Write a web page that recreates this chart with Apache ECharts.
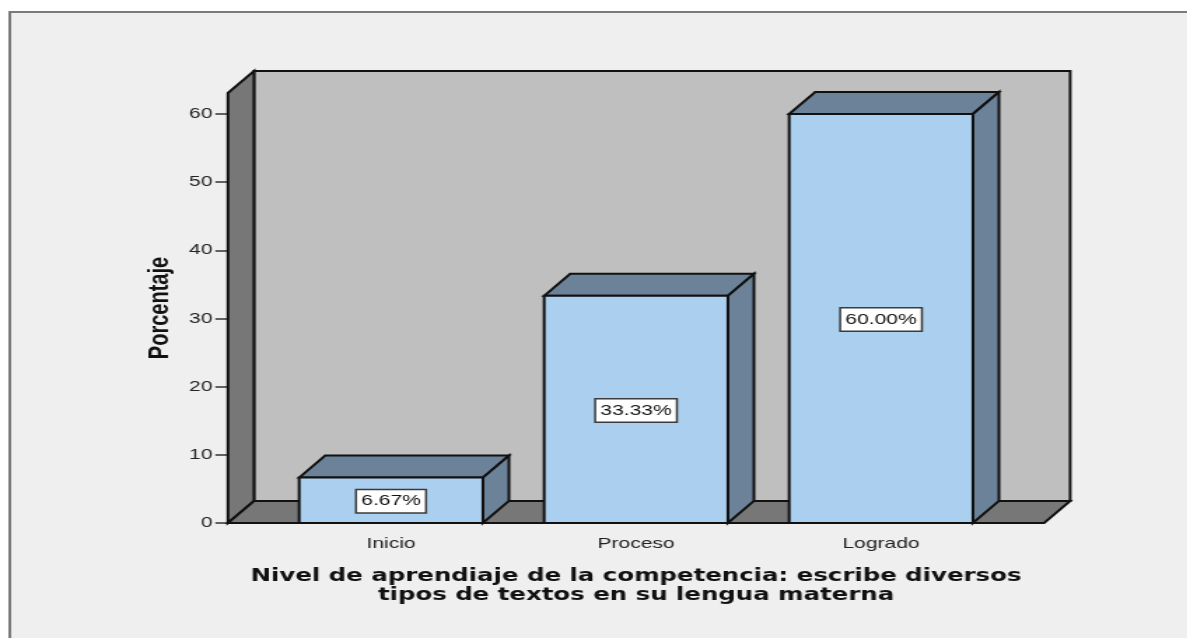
<!DOCTYPE html>
<html>
<head>
<meta charset="utf-8">
<title>Nivel de aprendizaje</title>
<script src="https://cdn.jsdelivr.net/npm/echarts@6/dist/echarts.min.js"></script>
<style>
html, body { margin: 0; padding: 0; background: #fff; overflow: hidden; }
/* the original picture is stretched horizontally, text and lines included */
#chart { width: 848px; height: 638px; transform: scaleX(1.4); transform-origin: 0 0; filter: blur(0.35px); }
</style>
</head>
<body>
<div id="chart"></div>
<script>
var categories = ["Inicio", "Proceso", "Logrado"];
var porcentajes = [6.67, 33.33, 60.00];
var yTicks = [0, 10, 20, 30, 40, 50, 60];
var xTitle = "Nivel de aprendiaje de la competencia: escribe diversos\ntipos de textos en su lengua materna";
var yTitle = "Porcentaje";

var DEPTH_X = 18.6;
var DEPTH_Y = 22;
var SIDE_PAD = 29;
var BAR_RATIO = 0.75;
var LINE = "#111111";
var faceStyle = function (fill) {
    return { fill: fill, stroke: LINE, lineWidth: 2, lineJoin: "miter" };
};

var myChart = echarts.init(document.getElementById("chart"), null, { renderer: "canvas" });

// paredes y piso del grafico
function renderWalls(params, api) {
    var cs = params.coordSys;
    var left = cs.x - SIDE_PAD;
    var right = cs.x + cs.width + SIDE_PAD;
    var top = cs.y;
    var bottom = cs.y + cs.height;
    return {
        type: "group",
        children: [
            {
                type: "polygon",
                shape: { points: [[left + DEPTH_X, top - DEPTH_Y], [right + DEPTH_X, top - DEPTH_Y], [right + DEPTH_X, bottom - DEPTH_Y], [left + DEPTH_X, bottom - DEPTH_Y]] },
                style: faceStyle("#bfbfbf")
            },
            {
                type: "polygon",
                shape: { points: [[left, top], [left + DEPTH_X, top - DEPTH_Y], [left + DEPTH_X, bottom - DEPTH_Y], [left, bottom]] },
                style: faceStyle("#777777")
            },
            {
                type: "polygon",
                shape: { points: [[left, bottom], [right, bottom], [right + DEPTH_X, bottom - DEPTH_Y], [left + DEPTH_X, bottom - DEPTH_Y]] },
                style: faceStyle("#777777")
            }
        ]
    };
}

function renderBar(params, api) {
    var idx = api.value(0);
    var val = api.value(1);
    var base = api.coord([idx, 0]);
    var head = api.coord([idx, val]);
    var w = api.size([1, 0])[0] * BAR_RATIO;
    var x0 = base[0] - w / 2;
    var x1 = base[0] + w / 2;
    return {
        type: "group",
        children: [
            {
                type: "polygon",
                shape: { points: [[x0, head[1]], [x0 + DEPTH_X, head[1] - DEPTH_Y], [x1 + DEPTH_X, head[1] - DEPTH_Y], [x1, head[1]]] },
                style: faceStyle("#6b8299")
            },
            {
                type: "polygon",
                shape: { points: [[x1, head[1]], [x1 + DEPTH_X, head[1] - DEPTH_Y], [x1 + DEPTH_X, base[1] - DEPTH_Y], [x1, base[1]]] },
                style: faceStyle("#6b8299")
            },
            {
                type: "rect",
                shape: { x: x0, y: head[1], width: w, height: base[1] - head[1] },
                style: faceStyle("#abcfee")
            },
            {
                type: "text",
                x: base[0],
                y: (base[1] + head[1]) / 2 + 1,
                style: {
                    text: val.toFixed(2) + "%",
                    font: "15px 'Liberation Sans'",
                    fill: "#111111",
                    align: "center",
                    verticalAlign: "middle",
                    backgroundColor: "#ffffff",
                    borderColor: "#3a3a3a",
                    borderWidth: 1.5,
                    padding: [4, 3, 3, 3]
                }
            }
        ]
    };
}

myChart.setOption({
    animation: false,
    backgroundColor: "transparent",
    graphic: [{
        type: "rect",
        z: -10,
        shape: { x: 7, y: 12, width: 900, height: 700 },
        style: { fill: "#efefef", stroke: "#7a7a7a", lineWidth: 2 }
    }],
    grid: { left: 191.8, top: 93, width: 525, height: 430 },
    xAxis: {
        type: "category",
        data: categories,
        name: xTitle,
        nameLocation: "middle",
        nameGap: 44,
        nameTextStyle: { fontFamily: "DejaVu Sans", fontWeight: "bold", fontSize: 17.45, color: "#111", lineHeight: 19 },
        axisLine: { lineStyle: { color: LINE, width: 2 } },
        axisTick: { alignWithLabel: true, length: 9, lineStyle: { color: "#333", width: 1.5 } },
        axisLabel: { fontFamily: "Liberation Sans", fontSize: 15, color: "#222", margin: 13 }
    },
    yAxis: {
        type: "value",
        min: 0,
        max: 63.08,
        interval: 10,
        offset: 29,
        name: yTitle,
        nameLocation: "middle",
        nameRotate: 90,
        nameGap: 38.5,
        nameTextStyle: { fontFamily: "Liberation Sans", fontWeight: "bold", fontSize: 20, color: "#111" },
        splitLine: { show: false },
        axisLine: { show: true, lineStyle: { color: LINE, width: 2 } },
        axisTick: { show: true, length: 9, customValues: yTicks, lineStyle: { color: "#333", width: 1.5 } },
        axisLabel: { fontFamily: "Liberation Sans", fontSize: 15, color: "#222", margin: 11, customValues: yTicks }
    },
    series: [
        {
            type: "custom",
            name: "fondo",
            renderItem: renderWalls,
            data: [[0, 0]],
            silent: true,
            z: 1
        },
        {
            type: "custom",
            name: yTitle,
            renderItem: renderBar,
            encode: { x: 0, y: 1 },
            data: porcentajes.map(function (v, i) { return [i, v]; }),
            z: 2
        }
    ]
});
window.addEventListener("resize", function () {
    myChart.resize();
});
</script>
</body>
</html>
